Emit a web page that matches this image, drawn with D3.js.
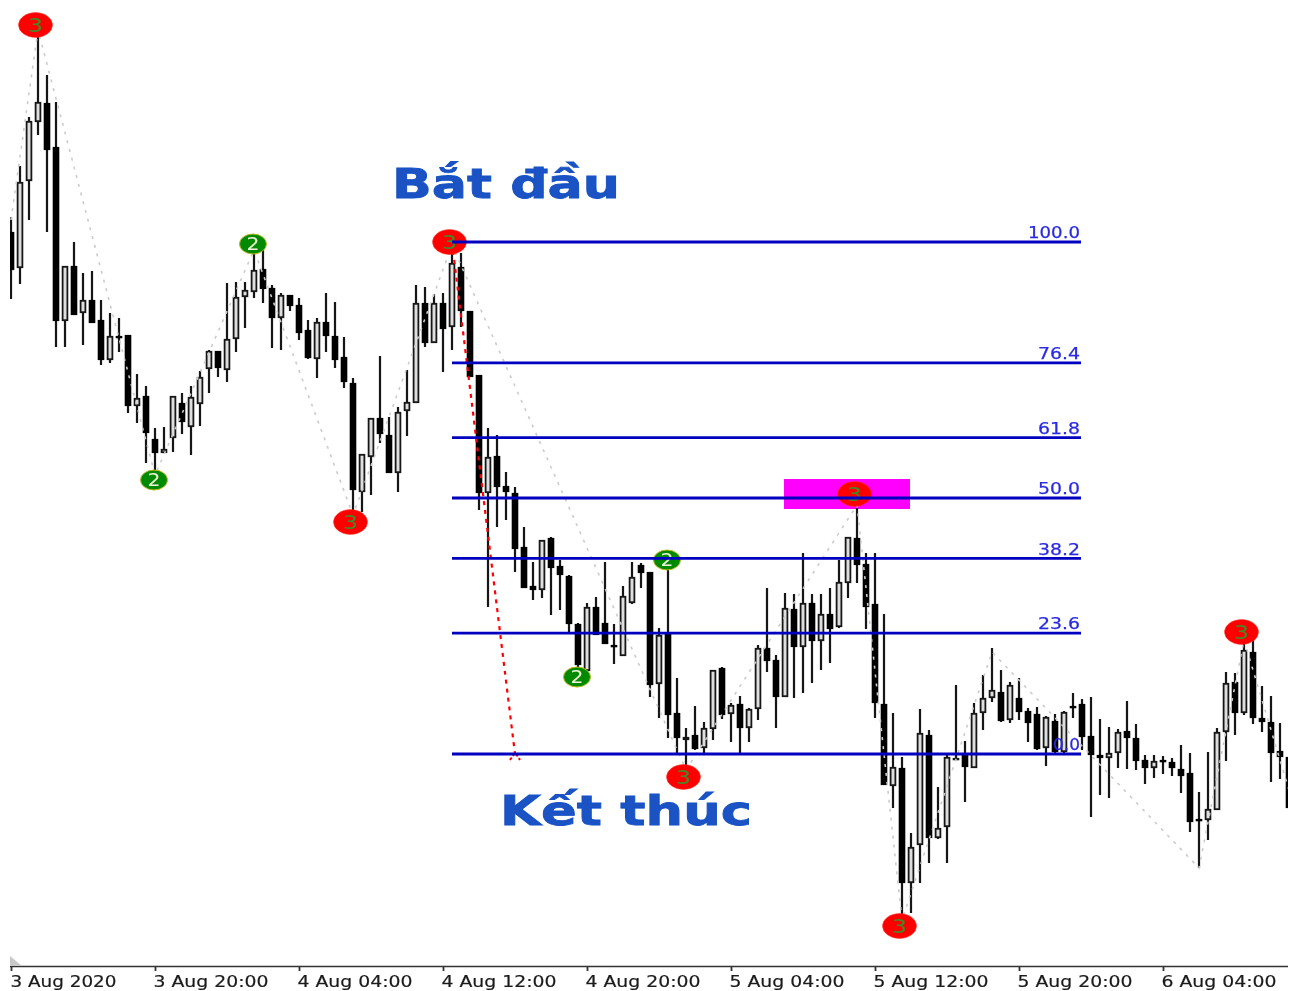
<!DOCTYPE html>
<html><head><meta charset="utf-8">
<script src="https://cdn.jsdelivr.net/npm/d3@7"></script>
<style>html,body{margin:0;background:#fff}svg{display:block}</style></head>
<body><svg id="c" width="1295" height="991"></svg>
<script>
const highs=[783,834,883,963,925,898,734,758,727,729,700,687,682,665,626,614,572,573,604,607,614,629,650,649,717,718,718,756,750,715,707,705,702,680,682,707,698,663,622,546,582,644,583,593,630,715,713,706,707,758,747,689,625,572,565,528,513,473,438,460,463,440,425,377,397,403,438,376,414,438,437,428,372,440,322,272,294,278,330,333,297,304,292,355,412,345,407,406,447,406,406,412,440,463,492,447,447,386,287,243,167,291,270,213,245,315,259,297,325,352,330,318,322,292,293,284,286,289,307,301,303,281,273,271,299,276,245,245,244,242,255,247,208,248,272,328,327,360,360,314,304,277,243];
const lows=[701,716,780,865,768,653,653,685,655,677,635,637,648,587,577,537,530,547,548,566,545,574,607,623,618,648,672,702,697,652,650,689,660,641,622,648,632,612,490,488,505,557,527,508,564,597,653,657,628,650,673,623,490,393,473,480,428,412,400,402,385,390,368,323,329,365,356,336,344,396,412,303,282,262,247,230,250,246,260,281,258,246,258,280,328,272,303,302,307,317,330,337,372,402,417,371,282,215,192,85,87,117,137,161,137,240,198,232,270,298,278,277,280,258,250,234,247,246,282,250,183,205,202,232,231,230,216,222,226,224,207,168,132,160,190,239,265,285,276,268,218,221,192];
const opens=[768,732,819,878,897,853,679,734,687,700,680,640,664,665,594,604,561,547,562,597,573,596,631,649,630,661,703,708,731,712,682,705,695,670,641,678,664,643,617,508,543,582,565,527,589,597,697,657,697,673,733,689,625,507,544,514,507,453,414,410,462,434,424,376,329,393,377,355,344,397,435,428,316,366,287,260,265,252,271,332,286,296,272,291,352,340,303,391,353,397,359,386,373,417,462,436,396,296,214,232,117,155,265,162,173,240,246,232,287,302,308,280,302,289,286,252,279,248,294,296,264,245,242,247,269,262,240,232,240,238,231,227,181,180,190,268,318,287,348,282,278,249,243];
const closes=[730,818,879,898,850,679,734,685,700,677,640,664,662,594,602,567,547,551,604,578,603,623,649,632,661,703,710,730,711,682,705,694,667,642,678,664,640,618,510,546,582,566,527,588,598,697,657,697,671,737,689,623,507,543,513,508,451,412,410,460,432,425,376,335,393,365,356,354,404,423,427,315,365,285,262,263,251,272,330,285,295,272,291,352,339,303,392,353,397,359,386,371,418,463,435,393,297,215,233,117,153,267,162,172,243,242,233,287,302,310,279,315,288,277,251,283,248,288,292,263,245,242,247,268,262,239,232,239,238,232,224,178,179,191,268,317,287,350,282,278,247,243,192];

const tickBars=[0,16,32,48,64,80,96,112,128];
const tickLabels=["3 Aug 2020","3 Aug 20:00","4 Aug 04:00","4 Aug 12:00","4 Aug 20:00","5 Aug 04:00","5 Aug 12:00","5 Aug 20:00","6 Aug 04:00"];

const fibLevels=[100,76.4,61.8,50,38.2,23.6,0];
const fibLabels=["100.0","76.4","61.8","50.0","38.2","23.6","0.0"];
const fibHigh=758, fibLow=246;
const fibStartBar=49, fibEndBar=119;

const zigBars=[0,3,16,27,38,49,75,94,99,109,132,137,142];
const zigVals=[780,970,525,750,485,755,230,495,80,348,132,360,210];

const markerBars=[3,38,49,75,94,99,137,16,27,63,73];
const markerVals=[975,478,758,223,506,74,368,520,756,323,440];
const markerLevels=[3,3,3,3,3,3,3,2,2,2,2];

const trendBars=[49,56];
const trendVals=[758,246];

const zoneBars=[86,100];
const zoneVals=[521,491];

const titles=["Bắt đầu","Kết thúc"];

const x=d3.scaleLinear().domain([0,142]).range([11,1289]);
const y=d3.scaleLinear().domain([0,1000]).range([1000,0]);
const svg=d3.select("#c");
const defs=svg.append("defs");
defs.append("clipPath").attr("id","plot").append("rect").attr("x",10).attr("y",0).attr("width",1278).attr("height",966);
defs.append("filter").attr("id","soft").attr("filterUnits","userSpaceOnUse").attr("x",0).attr("y",0).attr("width",1295).attr("height",991)
  .append("feGaussianBlur").attr("stdDeviation",0.5);

const root=svg.append("g").attr("filter","url(#soft)");
const g=root.append("g").attr("clip-path","url(#plot)");

g.append("rect").attr("x",x(zoneBars[0])-1).attr("y",y(zoneVals[0]))
 .attr("width",x(zoneBars[1])-x(zoneBars[0])).attr("height",y(zoneVals[1])-y(zoneVals[0])).attr("fill","#ff00ff");

const candles=highs.map((h,i)=>({i,h,l:lows[i],o:opens[i],c:closes[i]}));
const cg=g.selectAll("g.candle").data(candles).join("g").attr("class","candle");
cg.append("line").attr("x1",d=>x(d.i)).attr("x2",d=>x(d.i)).attr("y1",d=>y(d.h)).attr("y2",d=>y(d.l))
  .attr("stroke","#141414").attr("stroke-width",2.2);
cg.append("rect").attr("x",d=>x(d.i)-2.4).attr("width",4.8)
  .attr("y",d=>y(Math.max(d.o,d.c))+0.8)
  .attr("height",d=>Math.max(0.6,Math.abs(d.o-d.c)-1.6))
  .attr("fill",d=>d.c>d.o?"#dedede":"#000")
  .attr("stroke",d=>d.c>d.o?"#141414":"#000").attr("stroke-width",1.8);

const zig=d3.line().x((d,i)=>x(zigBars[i])).y(d=>y(d));
g.append("path").attr("d",zig(zigVals)).attr("fill","none").attr("stroke","#cccccc").attr("stroke-width",1.6).attr("stroke-dasharray","3 6");

const trend=d3.line().x((d,i)=>x(trendBars[i])).y(d=>y(d));
g.append("path").attr("d",trend(trendVals)).attr("fill","none").attr("stroke","#ff0000").attr("stroke-width",2.2).attr("stroke-dasharray","4 5");
const tx=x(trendBars[1]), ty=y(trendVals[1]);
g.append("path").attr("d",`M${tx-5},${ty+6}L${tx-1},${ty}M${tx+1},${ty}L${tx+5},${ty+6}`).attr("fill","none").attr("stroke","#ff0000").attr("stroke-width",2).attr("stroke-dasharray","3 2");

const mk=g.selectAll("g.mk").data(markerBars.map((b,i)=>({b,v:markerVals[i],lv:markerLevels[i]}))).join("g").attr("class","mk")
  .attr("transform",d=>`translate(${x(d.b)-(d.lv===3?2.5:1)},${y(d.v)})`);
mk.append("ellipse").attr("rx",d=>d.lv===3?17:13.5).attr("ry",d=>d.lv===3?12.5:10)
  .attr("fill",d=>d.lv===3?"#ff0000":"#058a05")
  .attr("stroke",d=>d.lv===3?"#ff3a2a":"#b8b820").attr("stroke-width",d=>d.lv===3?0.5:1);
mk.append("text").attr("text-anchor","middle").attr("dy","0.37em").attr("font-family","DejaVu Sans").attr("font-size",d=>d.lv===3?19:17)
  .attr("textLength",d=>d.lv===3?15:13).attr("lengthAdjust","spacingAndGlyphs")
  .attr("fill",d=>d.lv===3?"#3f8a2a":"#eef3d8").text(d=>d.lv);

const levelY=l=>y(fibLow+(fibHigh-fibLow)*l/100);
const fg=root.append("g");
fg.selectAll("line").data(fibLevels).join("line").attr("x1",x(fibStartBar)).attr("x2",x(fibEndBar)-1)
  .attr("y1",levelY).attr("y2",levelY).attr("stroke","#0000c0").attr("stroke-width",2.8);
fg.selectAll("text").data(fibLevels).join("text").attr("x",x(fibEndBar)-2).attr("y",d=>levelY(d)-3.8)
  .attr("text-anchor","end").attr("font-family","DejaVu Sans").attr("font-size",15.5)
  .attr("textLength",(d,i)=>fibLabels[i].length===5?52:fibLabels[i].length===4?42:27).attr("lengthAdjust","spacingAndGlyphs")
  .attr("fill","#2a2ae0").attr("stroke","#2a2ae0").attr("stroke-width",0.25).text((d,i)=>fibLabels[i]);

const title=[[392,198,228],[500,825,252]];
root.selectAll("text.title").data(titles).join("text").attr("class","title")
  .attr("x",(d,i)=>title[i][0]).attr("y",(d,i)=>title[i][1])
  .attr("textLength",(d,i)=>title[i][2]).attr("lengthAdjust","spacingAndGlyphs")
  .attr("font-family","DejaVu Sans").attr("font-weight","bold").attr("font-size",41).attr("fill","#1a52c4")
  .attr("stroke","#1a52c4").attr("stroke-width",0.8).text(d=>d);

const axis=d3.axisBottom(x).tickValues(tickBars).tickFormat((d,i)=>tickLabels[i]).tickSizeOuter(0).tickSize(5);
const ag=root.append("g").attr("transform","translate(0,966)").call(axis);
ag.select(".domain").attr("stroke","#333").attr("stroke-width",1.5).attr("d","M10,0.5H1288");
ag.selectAll(".tick line").attr("stroke","#333").attr("stroke-width",1.8);
ag.selectAll(".tick text").attr("text-anchor","start").attr("x",(d,i)=>i===0?-1:-2).attr("y",10)
  .attr("font-family","DejaVu Sans").attr("font-size",16).attr("fill","#1a1a1a").attr("stroke","#1a1a1a").attr("stroke-width",0.2)
  .attr("textLength",(d,i)=>i===0?106:115).attr("lengthAdjust","spacingAndGlyphs");
root.append("path").attr("d","M10,956L22,966L10,966Z").attr("fill","#c8c8c8");
</script></body></html>
